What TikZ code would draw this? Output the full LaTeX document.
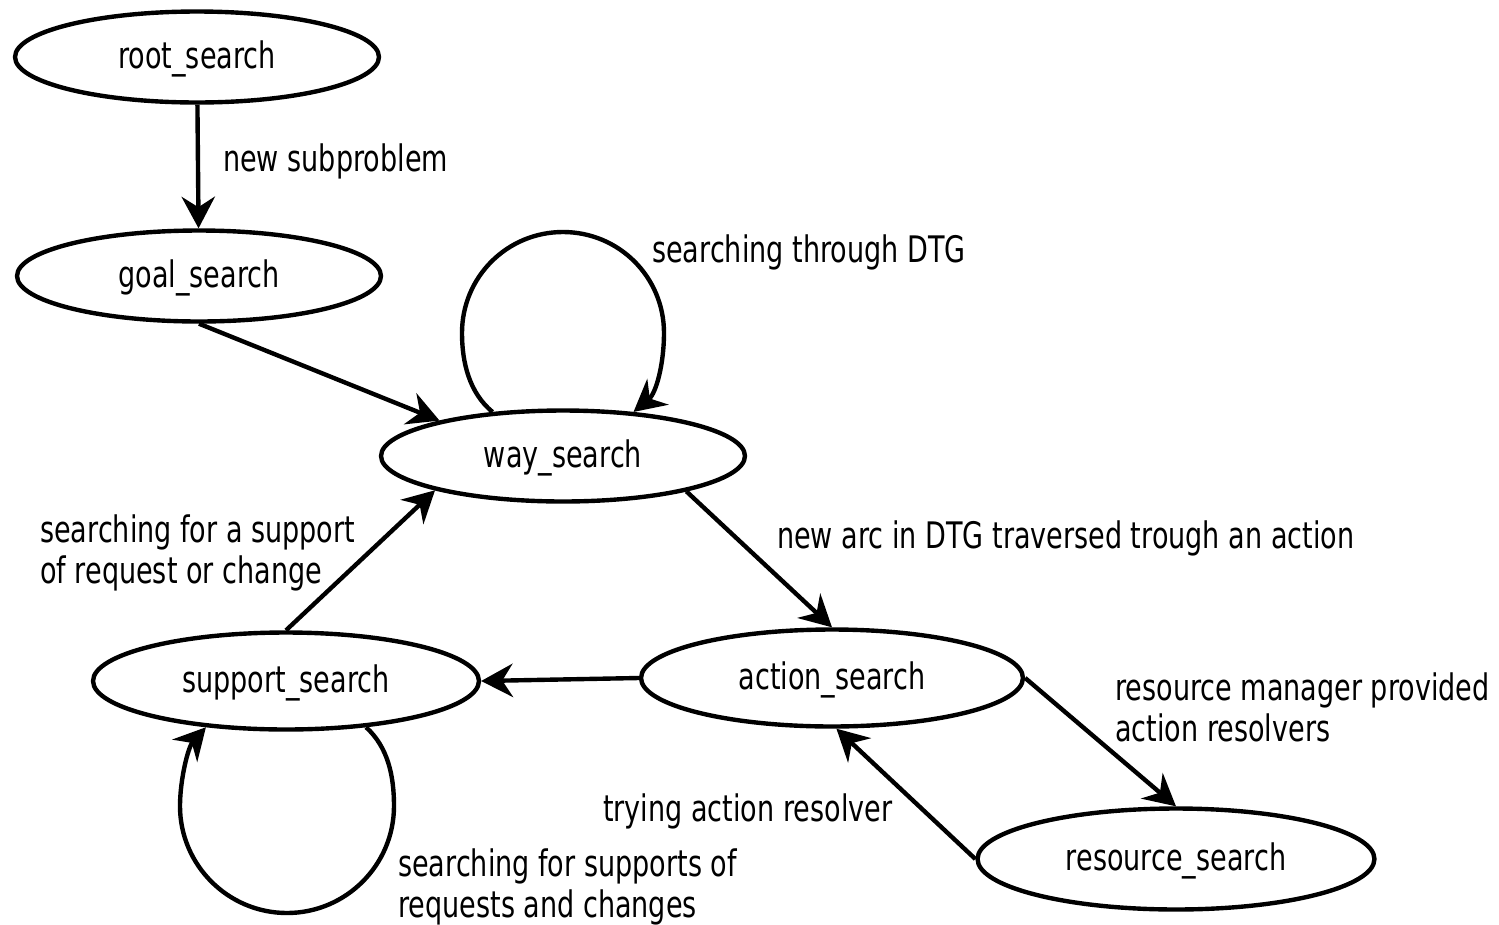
\documentclass[tikz,border=0pt]{standalone}
\usepackage{fontspec}
\setmainfont{DejaVu Sans}[FakeStretch=0.74]
\usetikzlibrary{shapes,arrows,arrows.meta,automata,positioning}

\begin{document}
\begin{tikzpicture}[->,>={Stealth[length=18pt,width=19pt,inset=6pt]},shorten >=0pt,
x=0.02cm,y=-0.02cm,line width=2.5pt,
font=\fontsize{20.8}{22.8}\selectfont]

\tikzstyle{every state}=[ellipse, minimum width=7.28cm, minimum height=1.82cm, text centered,
fill=white,draw,text=black,line width=2.5pt,inner sep=0pt,text depth=2.8pt]
\tikzstyle{edgetext}=[anchor=base west,align=left,inner sep=0pt]

\useasboundingbox (0,0) rectangle (1499,924);

%search states
\node[state] (root) at (197,57) {root\_search};
\node[state] (goal) at (199,276) {goal\_search};
\node[state] (way) at (563,456) {way\_search};
\node[state,minimum width=7.72cm,minimum height=1.94cm] (support) at (286,681) {support\_search};
\node[state,minimum width=7.64cm,minimum height=1.94cm] (action) at (832,678) {action\_search};
\node[state,minimum width=7.94cm,minimum height=2.02cm] (resource) at (1176,859) {resource\_search};

%labels (base = last line)
\node[edgetext] (lsub) at (221,171) {new subproblem};
\node[edgetext] (ldtg) at (650,262) {searching through DTG};
\node[edgetext] (larc) at (775,548) {new arc in DTG traversed trough an action};
\node[edgetext] (lreq) at (38,583) {searching for a support\\of request or change};
\node[edgetext] (lres) at (1113,741) {resource manager provided\\action resolvers};
\node[edgetext] (ltry) at (601,821) {trying action resolver};
\node[edgetext] (lsups) at (396,917) {searching for supports of\\requests and changes};

\path[->] (root) edge (goal);
\path[->] (goal.south) edge (way.164);
%loop over way_search
\draw[->] (way.148) .. controls +(-23,-19) and +(0,30) .. (462,333)
  .. controls +(0,-56) and +(-56,0) .. (563,232)
  .. controls +(56,0) and +(0,-56) .. (664,333)
  .. controls +(0,30) and +(23,-19) .. (way.32);
\path[->] (way.-16) edge (action.north);
\path[->] (action.west) edge (support.east);
\path[->] (support.north) edge (way.195);
%loop under support_search
\draw[->] (support.-30) .. controls +(22,20) and +(0,-30) .. (394,806)
  .. controls +(0,59) and +(59,0) .. (287,913)
  .. controls +(-59,0) and +(0,59) .. (180,806)
  .. controls +(0,-26) and +(-18,20) .. (support.-150);
\path[->] (action.east) edge (resource.north);
\path[->] (resource.west) edge (action.-85);

\end{tikzpicture}
\end{document}
